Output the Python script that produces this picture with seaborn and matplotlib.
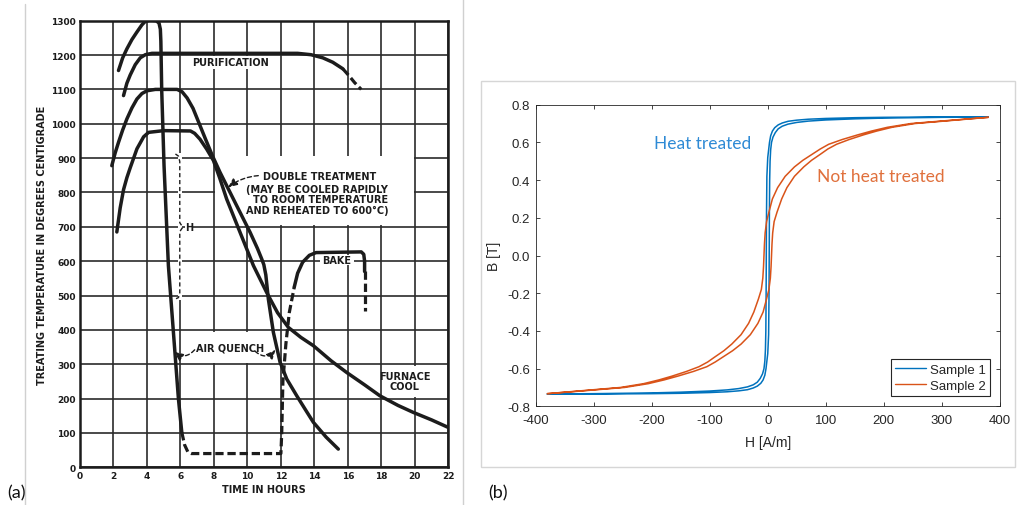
import numpy as np
import pandas as pd
import matplotlib
matplotlib.use("Agg")
import matplotlib.pyplot as plt
import seaborn as sns
from matplotlib.patches import Rectangle
from matplotlib.lines import Line2D

# ---------------- (a) heat-treatment schedules ----------------
time_ticks = list(range(0, 23, 2))
temp_ticks = list(range(0, 1301, 100))

# 1300 C anneal followed by air quench
anneal_t = [2.3, 2.55, 2.8, 3.1, 3.4, 3.7, 3.9, 4.2, 4.55, 4.72, 4.8, 4.83, 4.88, 5.02, 5.28, 5.58, 5.88, 6.08]
anneal_T = [1155, 1192, 1218, 1245, 1267, 1288, 1298, 1302, 1300, 1293, 1275, 1240, 1100, 878, 587, 393, 199, 102]
# room-temperature hold and reheating (dashed)
hold_t = [6.08, 6.25, 6.45, 6.65, 12.0, 12.05, 12.12, 12.3, 12.5, 12.8]
hold_T = [102, 65, 44, 40, 40, 100, 250, 360, 450, 525]
# bake at ~625 C
bake_t = [12.8, 13.0, 13.3, 13.7, 14.1, 16.8, 16.95, 17.0, 17.0]
bake_T = [525, 565, 597, 617, 625, 627, 620, 600, 570]
bake_end_t = [17.0, 17.0]
bake_end_T = [570, 456]

# purification at 1200 C
purif_t = [2.6, 2.8, 3.0, 3.3, 3.6, 3.9, 4.3, 13.0, 13.8, 14.5, 15.1, 15.7]
purif_T = [1082, 1118, 1142, 1172, 1192, 1201, 1205, 1205, 1201, 1192, 1179, 1160]
purif_end_t = [15.7, 16.1, 16.4, 16.8]
purif_end_T = [1160, 1138, 1120, 1100]

# double treatment from 1100 C
double_t = [1.9, 2.1, 2.3, 2.55, 2.8, 3.1, 3.4, 3.7, 4.0, 4.5, 5.8, 6.1, 6.4, 6.75, 7.1, 7.5, 7.9,
            8.36, 9.16, 10.16, 10.6, 10.85, 10.98, 11.1, 11.25, 11.55, 11.95, 12.35, 12.95, 13.5,
            13.94, 14.7, 15.43]
double_T = [878, 915, 946, 982, 1014, 1046, 1072, 1088, 1096, 1100, 1100, 1093, 1075, 1045, 1003, 955, 908,
            859, 781, 684, 637, 607, 590, 560, 490, 393, 306, 257, 208, 165,
            131, 88, 53]

# 980 C treatment with furnace cool
furnace_t = [2.2, 2.4, 2.6, 2.8, 3.0, 3.4, 3.8, 4.1, 5.0, 6.6, 6.85, 7.17, 7.57, 7.97, 8.36, 8.76, 9.56,
             10.36, 11.15, 11.8, 12.45, 13.2, 13.94, 15.0, 15.93, 17.0, 17.92, 19.0, 19.9, 21.0, 22.0]
furnace_T = [685, 755, 808, 843, 872, 927, 962, 975, 980, 979, 972, 955, 926, 893, 840, 781, 684,
             587, 509, 450, 407, 378, 354, 310, 276, 240, 208, 180, 160, 138, 116]

# ---------------- (b) B-H loops ----------------
s1_H_down = [380, 300, 200, 150, 100, 70, 50, 35, 25, 18, 12, 8, 5, 3, 1.5, 0, -1.5, -2.2, -2.5, -2.8,
             -3.3, -4, -5, -6.5, -9, -13, -18, -25, -35, -50, -70, -100, -150, -200, -300, -380]
s1_B_down = [0.736, 0.735, 0.733, 0.731, 0.727, 0.723, 0.718, 0.712, 0.703, 0.693, 0.678, 0.660, 0.635,
             0.600, 0.560, 0.520, 0.420, 0.200, 0.000, -0.200, -0.400, -0.500, -0.560, -0.600, -0.628,
             -0.652, -0.672, -0.686, -0.697, -0.706, -0.713, -0.719, -0.725, -0.729, -0.733, -0.735]
s1_H_up = [-380, -300, -200, -150, -100, -70, -50, -35, -25, -18, -12, -8, -5, -3, -1.5, 0, 1.5, 2.2, 2.5,
           2.8, 3.3, 4, 5, 6.5, 9, 13, 18, 25, 35, 50, 70, 100, 150, 200, 300, 380]
s1_B_up = [-0.736, -0.735, -0.733, -0.731, -0.727, -0.723, -0.718, -0.712, -0.703, -0.693, -0.678, -0.660,
           -0.635, -0.600, -0.560, -0.520, -0.420, -0.200, 0.000, 0.200, 0.400, 0.500, 0.560, 0.600, 0.628,
           0.652, 0.672, 0.686, 0.697, 0.706, 0.713, 0.719, 0.725, 0.729, 0.733, 0.735]

s2_H_down = [380, 338, 294, 246.5, 206, 178.5, 155, 128, 105, 90.5, 78, 60.5, 46, 30, 17, 8, 2, -2, -4.5,
             -5.7, -6.5, -7.3, -8.5, -11, -16, -24, -33, -46, -62, -75.5, -92, -103.5, -118.5, -140, -165,
             -187.5, -214, -253.5, -300, -342, -380]
s2_B_down = [0.733, 0.723, 0.712, 0.700, 0.680, 0.660, 0.640, 0.615, 0.590, 0.565, 0.540, 0.505, 0.470,
             0.420, 0.360, 0.300, 0.230, 0.180, 0.120, 0.060, 0.000, -0.060, -0.120, -0.180, -0.230, -0.300,
             -0.360, -0.420, -0.470, -0.505, -0.540, -0.565, -0.590, -0.615, -0.640, -0.660, -0.680, -0.700,
             -0.712, -0.723, -0.733]
s2_H_up = [-380, -338, -294, -246.5, -206, -178.5, -155, -128, -105, -90.5, -78, -60.5, -46, -30, -17, -8,
           -2, 2, 4.5, 5.7, 6.5, 7.3, 8.5, 11, 16, 24, 33, 46, 62, 75.5, 92, 103.5, 118.5, 140, 165, 187.5,
           214, 253.5, 300, 342, 380]
s2_B_up = [-0.733, -0.723, -0.712, -0.700, -0.680, -0.660, -0.640, -0.615, -0.590, -0.565, -0.540, -0.505,
           -0.470, -0.420, -0.360, -0.300, -0.230, -0.180, -0.120, -0.060, 0.000, 0.060, 0.120, 0.180, 0.230,
           0.300, 0.360, 0.420, 0.470, 0.505, 0.540, 0.565, 0.590, 0.615, 0.640, 0.660, 0.680, 0.700, 0.712,
           0.723, 0.733]

h_ticks = list(range(-400, 401, 100))
b_ticks = [-0.8, -0.6, -0.4, -0.2, 0.0, 0.2, 0.4, 0.6, 0.8]
sample_names = ["Sample 1", "Sample 2"]
sample_colors = ["#0072BD", "#D95319"]

# ---------------- styling ----------------
sns.set_theme(style="white")
plt.rcParams["font.family"] = ["DejaVu Sans"]
plt.rcParams["axes.unicode_minus"] = False

W, H = 1018, 506
fig = plt.figure(figsize=(W / 100, H / 100), dpi=100)
fig.patch.set_facecolor("white")


def fx(px):
    return px / W


def fy(py):
    return 1 - py / H


ink = "#1c1c1c"
grid_ink = "#2b2b2b"

# ---------------- panel (a) ----------------
axa = fig.add_axes([fx(80), fy(468.3), 368.3 / W, 446.6 / H])
axa.set_xlim(0, 22)
axa.set_ylim(0, 1300)
axa.set_xticks(time_ticks)
axa.set_yticks(temp_ticks)
axa.set_xticklabels([str(v) for v in time_ticks], fontsize=6.5, fontweight="bold", color=ink)
axa.set_yticklabels([str(v) for v in temp_ticks], fontsize=6.5, fontweight="bold", color=ink)
axa.tick_params(length=0, pad=3)
axa.set_axisbelow(True)
axa.grid(True, color=grid_ink, lw=1.2)
for sp in axa.spines.values():
    sp.set_visible(True)
    sp.set_color(ink)
    sp.set_linewidth(1.8)

# white label panels that interrupt the grid
for (x0, y0, w, h) in [(6.55, 1160, 4.9, 38), (8.06, 705, 11.88, 200), (5.86, 488, 0.26, 427),
                       (6.3, 682, 0.45, 36), (14.35, 588, 2.0, 30), (6.3, 305, 5.3, 90),
                       (18.06, 205, 3.88, 90)]:
    axa.add_patch(Rectangle((x0, y0), w, h, facecolor="white", edgecolor="none", zorder=1))

solid_kw = dict(color=ink, lw=2.5, sort=False, estimator=None, legend=False, ax=axa)
dash_kw = dict(color=ink, lw=2.3, sort=False, estimator=None, legend=False, ax=axa,
               linestyle=(0, (2.6, 1.2)))
for t, T in [(anneal_t, anneal_T), (bake_t, bake_T), (purif_t, purif_T),
             (double_t, double_T), (furnace_t, furnace_T)]:
    sns.lineplot(x=t, y=T, **solid_kw)
for t, T in [(hold_t, hold_T), (bake_end_t, bake_end_T), (purif_end_t, purif_end_T)]:
    sns.lineplot(x=t, y=T, **dash_kw)
for ln in axa.get_lines():
    ln.set_solid_capstyle("round")
    ln.set_zorder(2)

txt_kw = dict(fontsize=7, fontweight="bold", color=ink, ha="center", va="center", zorder=3)
axa.text(9.0, 1179, "PURIFICATION", **txt_kw)
axa.text(14.34, 849, "DOUBLE TREATMENT", **txt_kw)
axa.text(14.17, 810, "(MAY BE COOLED RAPIDLY", **txt_kw)
axa.text(14.34, 781, "TO ROOM TEMPERATURE", **txt_kw)
axa.text(14.2, 750, "AND REHEATED TO 600°C)", **txt_kw)
axa.text(6.5, 699, "H", **txt_kw)
axa.text(15.33, 603, "BAKE", **txt_kw)
axa.text(8.97, 349, "AIR QUENCH", **txt_kw)
axa.text(19.4, 266, "FURNACE", **txt_kw)
axa.text(19.4, 238, "COOL", **txt_kw)

# brace marking the field-anneal range
axa.plot([5.7, 5.88, 5.96, 5.96, 6.14, 5.96, 5.96, 5.88, 5.7],
         [912, 906, 890, 712, 699, 686, 508, 494, 490],
         color=ink, lw=1.0, linestyle=(0, (3, 2)), zorder=3)

leader = dict(arrowstyle="-|>,head_length=0.45,head_width=0.2", color=ink, lw=1.0,
              linestyle=(0, (3, 2)), shrinkA=0, shrinkB=0)
axa.annotate("", xy=(8.85, 815), xytext=(10.65, 849),
             arrowprops=dict(connectionstyle="arc3,rad=0.15", **leader), zorder=3)
axa.annotate("", xy=(5.62, 336), xytext=(6.85, 342),
             arrowprops=dict(connectionstyle="arc3,rad=-0.45", **leader), zorder=3)
axa.annotate("", xy=(11.68, 342), xytext=(10.45, 338),
             arrowprops=dict(connectionstyle="arc3,rad=0.5", **leader), zorder=3)

fig.text(fx(42), fy(245), "TREATING TEMPERATURE IN DEGREES CENTIGRADE", rotation=90,
         fontsize=7, fontweight="bold", color=ink, ha="center", va="center")
fig.text(fx(264), fy(490), "TIME IN HOURS", fontsize=7, fontweight="bold", color=ink,
         ha="center", va="center")

# ---------------- panel (b) ----------------
axb = fig.add_axes([fx(535.6), fy(407.3), 464.3 / W, 301.6 / H])
rows = []
for name, hd, bd, hu, bu in [(sample_names[0], s1_H_down, s1_B_down, s1_H_up, s1_B_up),
                             (sample_names[1], s2_H_down, s2_B_down, s2_H_up, s2_B_up)]:
    for h_val, b_val in zip(hd + hu, bd + bu):
        rows.append((name, h_val, b_val))
loop = pd.DataFrame(rows, columns=["sample", "H", "B"])
sns.lineplot(data=loop, x="H", y="B", hue="sample", palette=dict(zip(sample_names, sample_colors)),
             sort=False, estimator=None, lw=1.1, legend=False, ax=axb)

axb.set_xlim(-400, 400)
axb.set_ylim(-0.8, 0.8)
axb.set_xticks(h_ticks)
axb.set_yticks(b_ticks)
axis_font = ["Liberation Sans", "DejaVu Sans"]
axb.set_xticklabels([str(v) for v in h_ticks], fontsize=9.5, family=axis_font, color="#262626")
axb.set_yticklabels([f"{v:.1f}" for v in b_ticks], fontsize=9.5, family=axis_font, color="#262626")
axb.tick_params(axis="x", direction="in", length=3, width=0.6, top=True, bottom=True, pad=5.5,
                color="#262626")
axb.tick_params(axis="y", direction="in", length=3, width=0.6, left=True, right=True, pad=4,
                color="#262626")
axb.set_xlabel("")
axb.set_ylabel("")
for sp in axb.spines.values():
    sp.set_visible(True)
    sp.set_color("#262626")
    sp.set_linewidth(0.6)

handles = [Line2D([], [], color=c, lw=1.0) for c in sample_colors]
leg = axb.legend(handles, sample_names, loc="lower right", fancybox=False, framealpha=1,
                 edgecolor="#262626", handlelength=2.3, handletextpad=0.3,
                 borderpad=0.35, labelspacing=0.3, borderaxespad=0.75,
                 prop={"family": axis_font, "size": 9.5})
leg.get_frame().set_linewidth(0.8)

note_font = ["Lato", "DejaVu Sans"]
axb.text(-113, 0.595, "Heat treated", color="#2E8AD5", fontsize=12.5, family=note_font,
         ha="center", va="center")
axb.text(195, 0.423, "Not heat treated", color="#E0703C", fontsize=12.5, family=note_font,
         ha="center", va="center")

fig.text(fx(767.7), fy(442.7), "H [A/m]", fontsize=10, family=axis_font, color="#262626",
         ha="center", va="center")
fig.text(fx(493.7), fy(256.7), "B [T]", fontsize=10, family=axis_font, color="#262626",
         rotation=90, ha="center", va="center")

# ---------------- page furniture ----------------
sep = "#d0d0d0"
fig.add_artist(Line2D([fx(25), fx(25)], [fy(5), fy(506)], color=sep, lw=1.0))
fig.add_artist(Line2D([fx(463), fx(463)], [fy(0), fy(506)], color=sep, lw=1.0))
fig.add_artist(Rectangle((fx(481), fy(468)), (1015 - 481) / W, (468 - 82) / H,
                         facecolor="none", edgecolor="#d6d6d6", lw=1.0))
fig.text(fx(17), fy(493), "(a)", fontsize=13, family=note_font, color="#111111", ha="center", va="center")
fig.text(fx(498), fy(493), "(b)", fontsize=13, family=note_font, color="#111111", ha="center", va="center")

fig.savefig("out.png", dpi=100, facecolor="white")
